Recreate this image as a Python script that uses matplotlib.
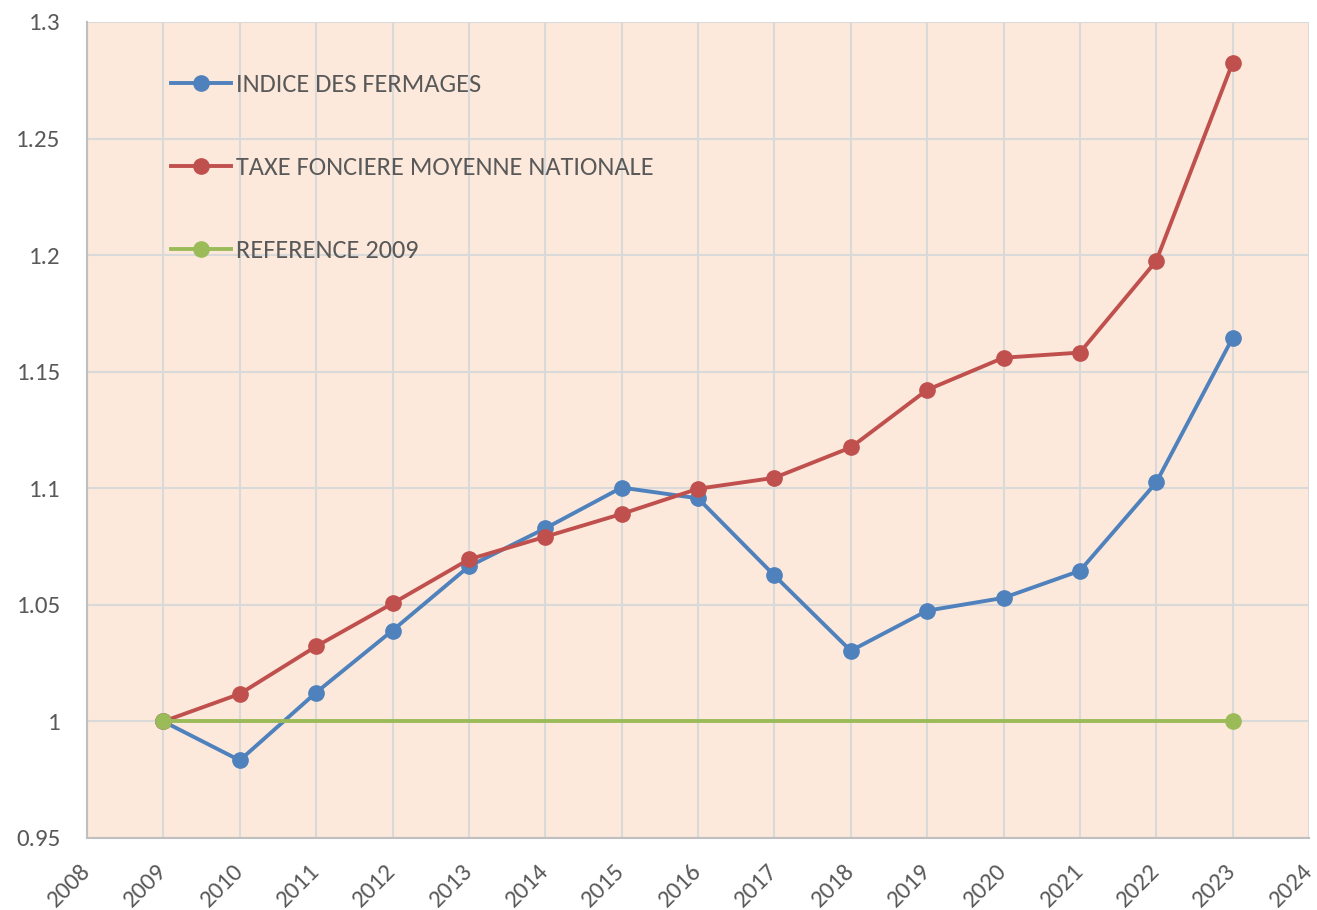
import matplotlib
matplotlib.use("Agg")
import matplotlib.pyplot as plt

years = list(range(2009, 2024))
indice_fermages = [1.0, 0.9833, 1.0124, 1.039, 1.0665, 1.0828, 1.1003, 1.0957, 1.0626, 1.0303,
                   1.0475, 1.0530, 1.0646, 1.1025, 1.1645]
taxe_fonciere = [1.0, 1.0118, 1.0322, 1.0506, 1.0695, 1.0792, 1.0890, 1.0998, 1.1045, 1.1175,
                 1.1422, 1.1560, 1.1582, 1.1975, 1.2825]
ref_years = [2009, 2023]
ref_values = [1.0, 1.0]

labels = ["INDICE DES FERMAGES", "TAXE FONCIERE MOYENNE NATIONALE", "REFERENCE 2009"]
colors = ["#4f81bd", "#c0504d", "#9bbb59"]
xticks = list(range(2008, 2025))
yticks = [0.95, 1.0, 1.05, 1.1, 1.15, 1.2, 1.25, 1.3]
ytick_labels = ["0.95", "1", "1.05", "1.1", "1.15", "1.2", "1.25", "1.3"]

plt.rcParams['font.family'] = ['Carlito', 'Liberation Sans', 'DejaVu Sans']

fig = plt.figure(figsize=(13.17, 9.10), dpi=100)
ax = fig.add_axes([87/1317, 1 - 838/910, (1309-87)/1317, (838-22)/910])
ax.set_facecolor("#fce9db")

kw = dict(linewidth=2.8, marker='o', markersize=11)
ax.plot(years, indice_fermages, color=colors[0], label=labels[0], **kw, zorder=3)
ax.plot(years, taxe_fonciere, color=colors[1], label=labels[1], **kw, zorder=4)
ax.plot(ref_years, ref_values, color=colors[2], label=labels[2], **kw, zorder=5)

ax.set_xlim(2008, 2024)
ax.set_ylim(0.95, 1.3)
ax.set_xticks(xticks)
ax.set_xticklabels([str(x) for x in xticks], rotation=45, ha='right', va='center',
                   rotation_mode='anchor')
ax.set_yticks(yticks)
ax.set_yticklabels(ytick_labels)
ax.tick_params(axis='both', length=0, labelsize=18, labelcolor='#595959')
ax.tick_params(axis='x', pad=21)
ax.tick_params(axis='y', pad=19)
ax.grid(True, color='#d9d9d9', linewidth=1.5)
ax.set_axisbelow(True)
for s in ['top', 'right']:
    ax.spines[s].set_visible(False)
for s in ['left', 'bottom']:
    ax.spines[s].set_color('#bfbfbf')
    ax.spines[s].set_linewidth(1.5)

leg = ax.legend(loc='upper left', bbox_to_anchor=(0.0687, 0.9375), frameon=False,
                borderpad=0, borderaxespad=0,
                fontsize=19, labelspacing=2.28, handlelength=2.27, handletextpad=0.19,
                labelcolor='#595959')

fig.savefig("out.png", dpi=100)
